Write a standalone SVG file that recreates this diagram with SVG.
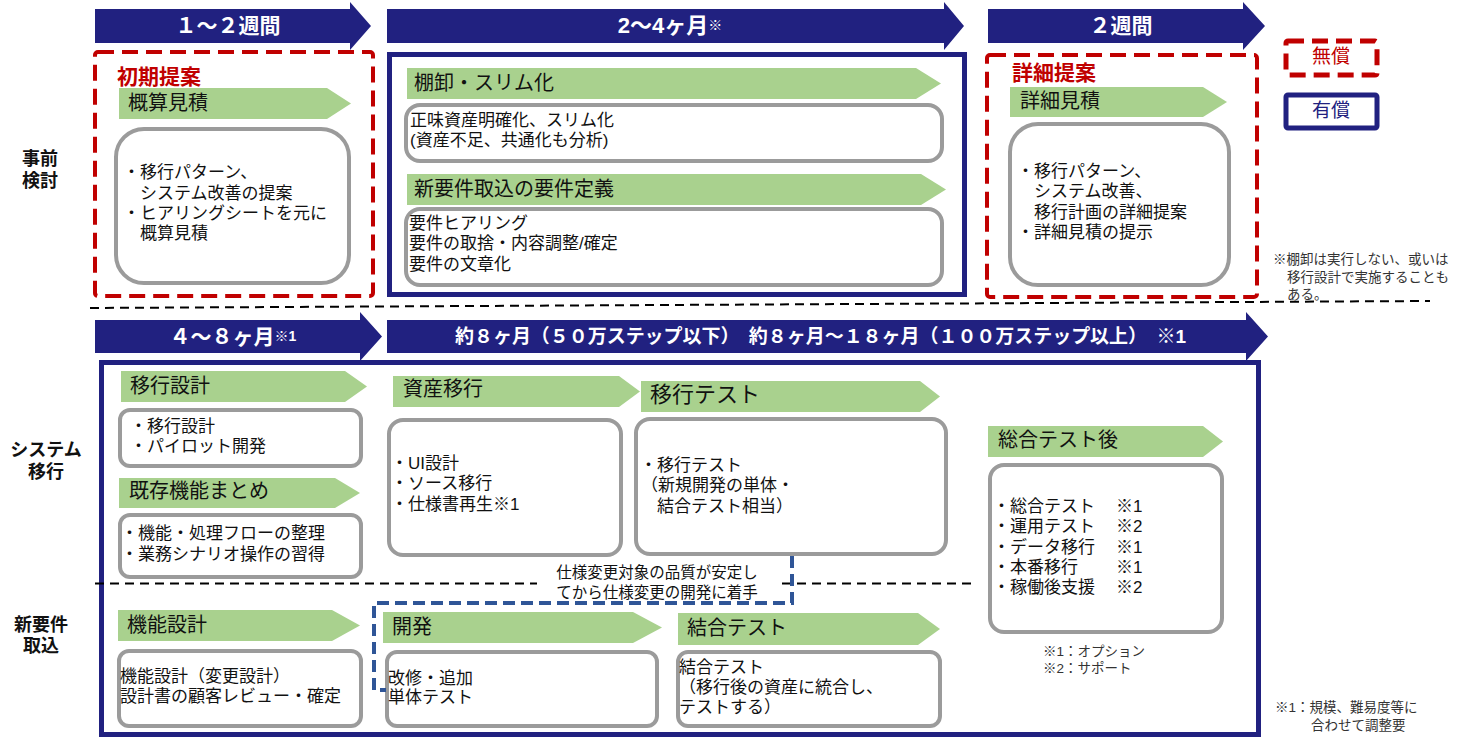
<svg xmlns="http://www.w3.org/2000/svg" width="1467" height="743" viewBox="0 0 1467 743">
<style>
text{font-family:"Liberation Sans","Noto Sans CJK JP",sans-serif;dominant-baseline:central;fill:#111}
.nav{fill:#212180}
.grn{fill:#A9D18E}
.gb{fill:#fff;stroke:#9B9B9B;stroke-width:4}
.red{fill:#fff;stroke:#C00000;stroke-width:4;stroke-dasharray:16 8}
.navb{fill:#fff;stroke:#212180;stroke-width:5}
.t{font-size:17px}
.h{font-size:20px}
.w{font-size:21px;font-weight:bold;fill:#fff;text-anchor:middle}
.lab{font-size:18px;font-weight:bold;text-anchor:middle}
.rt{font-size:21px;font-weight:bold;fill:#C00000}
.n{font-size:13.5px;fill:#333}
.sep{fill:none;stroke:#000;stroke-width:2;stroke-dasharray:9 6}
</style>

<g id="timeline">
<g id="arrow-1-2w"><polygon class="nav" points="95,9 350,9 350,2 371,26 350,50 350,43 95,43"/><text class="w" x="228" y="25">１～２週間</text></g>
<g id="arrow-2-4m"><polygon class="nav" points="387,9 944,9 944,2 964,26 944,50 944,43 387,43"/><text class="w" x="670" y="25" style="font-size:22px">2～4ヶ月<tspan font-size="14">※</tspan></text></g>
<g id="arrow-2w"><polygon class="nav" points="988,9 1243,9 1243,2 1265,26 1243,50 1243,43 988,43"/><text class="w" x="1121" y="25">２週間</text></g>
<g id="arrow-4-8m"><polygon class="nav" points="95,320 360,320 360,312 382,336.5 360,361 360,353 95,353"/><text class="w" x="233" y="336">４～８ヶ月<tspan font-size="14">※1</tspan></text></g>
<g id="arrow-8-18m"><polygon class="nav" points="387,320 1246,320 1246,312 1268,336.5 1246,361 1246,353 387,353"/><text class="w" x="455" y="336" style="text-anchor:start;font-size:19px" textLength="731" lengthAdjust="spacing">約８ヶ月（５０万ステップ以下）　約８ヶ月～１８ヶ月（１００万ステップ以上）　※1</text></g>
</g>

<g id="row-labels">
<text class="lab" x="40" y="159">事前</text><text class="lab" x="40" y="181">検討</text>
<text class="lab" x="46" y="450">システム</text><text class="lab" x="46" y="472">移行</text>
<text class="lab" x="41" y="625">新要件</text><text class="lab" x="41" y="646">取込</text>
</g>

<g id="initial-proposal">
<rect class="red" x="95" y="52" width="278" height="244" rx="3"/>
<text class="rt" x="117" y="76">初期提案</text>
<polygon class="grn" points="119,88 327,88 351,103.5 327,119 119,119"/>
<text class="h" x="128" y="103">概算見積</text>
<rect class="gb" x="116" y="129" width="233" height="154" rx="28"/>
<text class="t" x="123" y="172">・移行パターン、</text>
<text class="t" x="140" y="193">システム改善の提案</text>
<text class="t" x="123" y="213">・ヒアリングシートを元に</text>
<text class="t" x="140" y="233">概算見積</text>
</g>

<g id="inventory">
<rect class="navb" x="389.5" y="54.5" width="575" height="240"/>
<polygon class="grn" points="407,68 916,68 941,83.5 916,99 407,99"/>
<text class="h" x="414" y="83">棚卸・スリム化</text>
<rect class="gb" x="406" y="105" width="536" height="56" rx="14"/>
<text class="t" x="410" y="120">正味資産明確化、スリム化</text>
<text class="t" x="410" y="140">(資産不足、共通化も分析)</text>
<polygon class="grn" points="407,174 921,174 946,189.5 921,205 407,205"/>
<text class="h" x="414" y="189">新要件取込の要件定義</text>
<rect class="gb" x="406" y="209" width="536" height="76" rx="14"/>
<text class="t" x="409" y="223">要件ヒアリング</text>
<text class="t" x="409" y="243">要件の取捨・内容調整/確定</text>
<text class="t" x="409" y="264">要件の文章化</text>
</g>

<g id="detail-proposal">
<rect class="red" x="987" y="55" width="270" height="242" rx="3"/>
<text class="rt" x="1012" y="72">詳細提案</text>
<polygon class="grn" points="1010,87 1203,87 1227,102 1203,117 1010,117"/>
<text class="h" x="1020" y="101">詳細見積</text>
<rect class="gb" x="1010" y="124" width="219" height="161" rx="28"/>
<text class="t" x="1017" y="171">・移行パターン、</text>
<text class="t" x="1034" y="191">システム改善、</text>
<text class="t" x="1034" y="212">移行計画の詳細提案</text>
<text class="t" x="1017" y="232">・詳細見積の提示</text>
</g>

<g id="legend">
<rect x="1286" y="41" width="91" height="34" fill="#fff" stroke="#C00000" stroke-width="5" stroke-dasharray="16 8" rx="2"/>
<text x="1331" y="56" style="font-size:19px;fill:#C00000;text-anchor:middle">無償</text>
<rect x="1286" y="95" width="91" height="33" fill="#fff" stroke="#212180" stroke-width="5" rx="2"/>
<text x="1331" y="110" style="font-size:19px;fill:#212180;text-anchor:middle">有償</text>
</g>

<g id="note-inventory">
<text class="n" x="1273" y="259">※棚卸は実行しない、或いは</text>
<text class="n" x="1287" y="277">移行設計で実施することも</text>
<text class="n" x="1287" y="294">ある。</text>
</g>

<g id="system-migration">
<rect class="navb" x="101.5" y="362.5" width="1157" height="372"/>
</g>

<g id="separators">
<line class="sep" x1="90" y1="308" x2="1430" y2="301"/>
<line class="sep" x1="95" y1="583.5" x2="537" y2="583.5"/>
<line class="sep" x1="782" y1="583.5" x2="972" y2="583.5"/>
</g>

<g id="migration-design">
<polygon class="grn" points="121,371 345,371 367,386.5 345,402 121,402"/>
<text class="h" x="130" y="386">移行設計</text>
<rect class="gb" x="120" y="410" width="241" height="56" rx="10"/>
<text class="t" x="130" y="426">・移行設計</text>
<text class="t" x="130" y="446">・パイロット開発</text>
</g>

<g id="existing-functions">
<polygon class="grn" points="119,478 335,478 360,493 335,508 119,508"/>
<text class="h" x="129" y="491">既存機能まとめ</text>
<rect class="gb" x="120" y="515" width="241" height="62" rx="10"/>
<text class="t" x="121" y="533">・機能・処理フローの整理</text>
<text class="t" x="121" y="554">・業務シナリオ操作の習得</text>
</g>

<g id="asset-migration">
<polygon class="grn" points="393,376 619,376 640,391.5 619,407 393,407"/>
<text class="h" x="403" y="389">資産移行</text>
<rect class="gb" x="389" y="420" width="232" height="135" rx="14"/>
<text class="t" x="391" y="463">・UI設計</text>
<text class="t" x="391" y="483">・ソース移行</text>
<text class="t" x="391" y="504">・仕様書再生※1</text>
</g>

<g id="migration-test">
<polygon class="grn" points="641,381 920,381 940,396.5 920,412 641,412"/>
<text x="650" y="394" style="font-size:22px">移行テスト</text>
<rect class="gb" x="636" y="419" width="310" height="135" rx="14"/>
<text class="t" x="640" y="465">・移行テスト</text>
<text class="t" x="641" y="485">（新規開発の単体・</text>
<text class="t" x="657" y="506">結合テスト相当）</text>
</g>

<g id="after-integration-test">
<polygon class="grn" points="988,426 1203,426 1223,441.5 1203,457 988,457"/>
<text class="h" x="998" y="440">総合テスト後</text>
<rect class="gb" x="990" y="465" width="232" height="167" rx="14"/>
<text class="t" x="993" y="506">・総合テスト</text><text class="t" x="1116" y="506">※1</text>
<text class="t" x="993" y="526">・運用テスト</text><text class="t" x="1116" y="526">※2</text>
<text class="t" x="993" y="547">・データ移行</text><text class="t" x="1116" y="547">※1</text>
<text class="t" x="993" y="567">・本番移行</text><text class="t" x="1116" y="567">※1</text>
<text class="t" x="993" y="587">・稼働後支援</text><text class="t" x="1116" y="587">※2</text>
<text class="n" x="1043" y="651">※1：オプション</text>
<text class="n" x="1043" y="668">※2：サポート</text>
</g>

<g id="function-design">
<polygon class="grn" points="118,610 332,610 360,625.5 332,641 118,641"/>
<text class="h" x="127" y="625">機能設計</text>
<rect class="gb" x="119" y="651" width="242" height="75" rx="10"/>
<text class="t" x="120" y="676">機能設計（変更設計）</text>
<text class="t" x="120" y="696">設計書の顧客レビュー・確定</text>
</g>

<g id="development">
<polygon class="grn" points="383,612 633,612 662,627.5 633,643 383,643"/>
<text class="h" x="392" y="627">開発</text>
<rect class="gb" x="387" y="652" width="270" height="74" rx="10"/>
<text class="t" x="388" y="678">改修・追加</text>
<text class="t" x="388" y="697">単体テスト</text>
</g>

<g id="integration-test">
<polygon class="grn" points="678,613 918,613 940,629 918,645 678,645"/>
<text class="h" x="687" y="628">結合テスト</text>
<rect class="gb" x="678" y="652" width="262" height="74" rx="10"/>
<text class="t" x="679" y="667">結合テスト</text>
<text class="t" x="679" y="687">（移行後の資産に統合し、</text>
<text class="t" x="679" y="707">テストする）</text>
</g>

<g id="connectors">
<path d="M792 556 V603 H374 V690 H386" fill="none" stroke="#2F5597" stroke-width="4" stroke-dasharray="12 6"/>
<text x="657" y="572" style="font-size:15.5px;text-anchor:middle">仕様変更対象の品質が安定し</text>
<text x="657" y="592" style="font-size:15.5px;text-anchor:middle">てから仕様変更の開発に着手</text>
</g>

<g id="note-scale">
<text class="n" x="1275" y="707">※1：規模、難易度等に</text>
<text class="n" x="1311" y="725">合わせて調整要</text>
</g>
</svg>
